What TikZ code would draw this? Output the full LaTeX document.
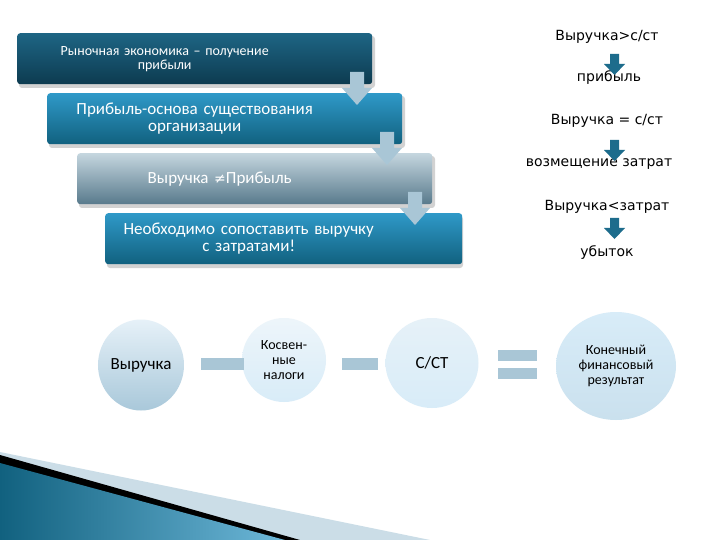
\documentclass[tikz,border=0pt]{standalone}
\usepackage{fontspec}
\setmainfont{Carlito}
\newfontfamily\rfont{DejaVu Sans}
\usetikzlibrary{shapes.geometric,arrows.meta}
\definecolor{lband}{HTML}{A9C6D6}
\definecolor{darkA}{HTML}{0D3B50}
\definecolor{darkB}{HTML}{1E6584}
\definecolor{bluA}{HTML}{2F99C8}
\definecolor{bluB}{HTML}{11617F}
\definecolor{grA}{HTML}{C5D6DF}
\definecolor{grB}{HTML}{587A8C}
\definecolor{arrc}{HTML}{1D6C8C}
\definecolor{circA}{HTML}{E6F1F8}
\definecolor{circB}{HTML}{A9C8DA}
\definecolor{circC}{HTML}{D8ECF8}
\tikzset{
  box/.style={rounded corners=3pt,minimum height=51pt,text=white,align=center,font=\fontsize{17}{17}\selectfont,anchor=north west,inner sep=0pt},
  downarr/.style={fill=lband,draw=none},
  rt/.style={font=\rfont\fontsize{14}{14}\selectfont,text=black},
  circ/.style={ellipse,inner sep=0pt,align=center,font=\fontsize{17}{17}\selectfont},
  bar/.style={fill=lband,draw=none},
}
\begin{document}
\begin{tikzpicture}[x=1pt,y=-1pt]
\useasboundingbox[fill=white] (0,0) rectangle (720,540);
% shadows
\foreach \x/\y in {17/33,47/93,77/153,105/213}
  \fill[gray!35,rounded corners=3pt] (\x+2,\y+3) rectangle ++(356,52);
% boxes
\node[box,minimum width=355pt,top color=darkB,bottom color=darkA,text width=355pt,font=\fontsize{14}{14}\selectfont] (b1) at (17,33) {\hspace*{-60pt}Рыночная экономика – получение\\ \hspace*{-60pt}прибыли};
\node[box,minimum width=355pt,top color=bluA,bottom color=bluB,text width=355pt] (b2) at (47,93) {\hspace*{-60pt}Прибыль-основа существования\\ \hspace*{-60pt}организации};
\node[box,minimum width=355pt,top color=grA,bottom color=grB,text width=355pt] (b3) at (77,153) {\hspace*{-70pt}Выручка {\rfont\fontsize{14}{14}\selectfont ≠}Прибыль};
\node[box,minimum width=357pt,top color=bluA,bottom color=bluB,text width=357pt] (b4) at (105,213) {\hspace*{-70pt}Необходимо сопоставить выручку\\ \hspace*{-70pt}с затратами!};
% down arrows
\foreach \cx/\cy in {357/72,387/132,415/192}
  \fill[downarr] (\cx-7,\cy) -- (\cx+7,\cy) -- (\cx+7,\cy+16) -- (\cx+15,\cy+16) -- (\cx,\cy+33) -- (\cx-15,\cy+16) -- (\cx-7,\cy+16) -- cycle;
% right texts
\node[rt] (r1) at (607,37) {Выручка>с/ст};
\node[rt] (r2) at (609,78) {прибыль};
\node[rt] (r3) at (607,121) {Выручка = с/ст};
\node[rt] (r4) at (599,164) {возмещение затрат};
\node[rt] (r5) at (607,207) {Выручка<затрат};
\node[rt] (r6) at (607,253) {убыток};
\foreach \cy in {54,140,218}
  \fill[arrc] (610,\cy) rectangle (619,\cy+10) (604,\cy+10) -- (625,\cy+10) -- (614.5,\cy+21) -- cycle;
% circles
\node[circ,minimum width=85pt,minimum height=91pt,top color=circA,bottom color=circB] (c1) at (141,365) {Выручка};
\node[circ,minimum width=84pt,minimum height=84pt,top color=circA!70!white,bottom color=circC,font=\fontsize{14}{15}\selectfont] (c2) at (284,360) {Косвен-\\ные\\налоги};
\node[circ,minimum width=93pt,minimum height=90pt,top color=circA,bottom color=circC] (c3) at (432,363) {С/СТ};
\node[circ,minimum width=120pt,minimum height=108pt,top color=circC,bottom color=circC!70!lband,font=\fontsize{14}{15}\selectfont] (c4) at (616,366) {Конечный\\финансовый\\результат};
\fill[bar] (201,358) rectangle (244,370);
\fill[bar] (342,358) rectangle (378,370);
\fill[bar] (498,350) rectangle (537,361);
\fill[bar] (498,368) rectangle (537,379);
% bottom-left decoration
\fill[lband!60!white] (0,452) -- (430,540) -- (0,540) -- cycle;
\fill[black] (0,455) -- (300,540) -- (0,540) -- cycle;
\shade[left color=bluB,right color=bluA!70!white] (0,463) -- (285,540) -- (0,540) -- cycle;
\end{tikzpicture}
\end{document}
